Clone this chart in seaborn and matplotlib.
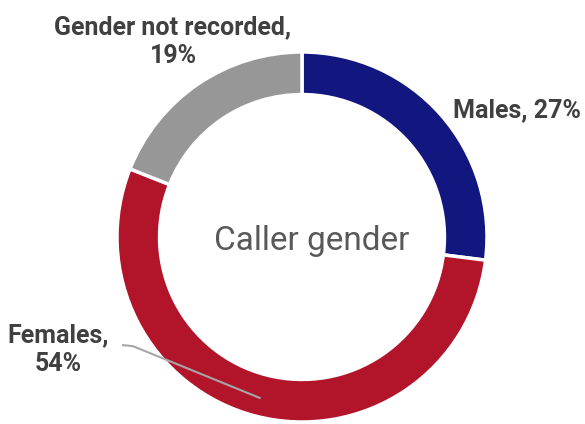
import numpy as np
import matplotlib
matplotlib.use("Agg")
import matplotlib.pyplot as plt
import seaborn as sns

categories = ["Males", "Females", "Gender not recorded"]
values = [27, 54, 19]
colors = ["#12167F", "#B2152A", "#979797"]
center_title = "Caller gender"

sns.set_theme(style="white")
plt.rcParams["font.family"] = ["Roboto", "DejaVu Sans"]

fig = plt.figure(figsize=(5.85, 4.24), dpi=100)
ax = fig.add_axes([0, 0, 1, 1])
wedges, _ = ax.pie(values, colors=colors, startangle=90, counterclock=False,
                   radius=1.0,
                   wedgeprops=dict(width=0.23, edgecolor="white", linewidth=2.5))
s = 185.0
ax.set_xlim(-302 / s, (585 - 302) / s)
ax.set_ylim(-(424 - 237) / s, 237 / s)
ax.set_aspect("equal")
ax.axis("off")

lab_color = "#404040"
fs = 18
# Males
ax.text(0.816, 0.686, f"{categories[0]}, {values[0]}%", ha="left", va="center",
        fontsize=fs, fontweight="bold", color=lab_color)
# Gender not recorded
ax.text(-0.697, 1.055, f"{categories[2]},\n{values[2]}%", ha="center", va="center",
        fontsize=fs, fontweight="bold", color=lab_color, linespacing=1.25)
# Females
fx, fy = -1.319, -0.61
ax.text(fx, fy, f"{categories[1]},\n{values[1]}%", ha="center", va="center",
        fontsize=fs, fontweight="bold", color=lab_color, linespacing=1.25)
w = wedges[1]
mid = np.deg2rad((w.theta1 + w.theta2) / 2)
tx, ty = 0.9 * np.cos(mid), 0.9 * np.sin(mid)
ax.plot([-0.973, -0.914, tx], [-0.584, -0.59, ty], color="#A6A6A6", lw=1.5,
        solid_capstyle="butt", zorder=5)

ax.text(0.05, -0.02, center_title, ha="center", va="center", fontsize=24,
        color="#595959")

fig.savefig("out.png", dpi=100)
